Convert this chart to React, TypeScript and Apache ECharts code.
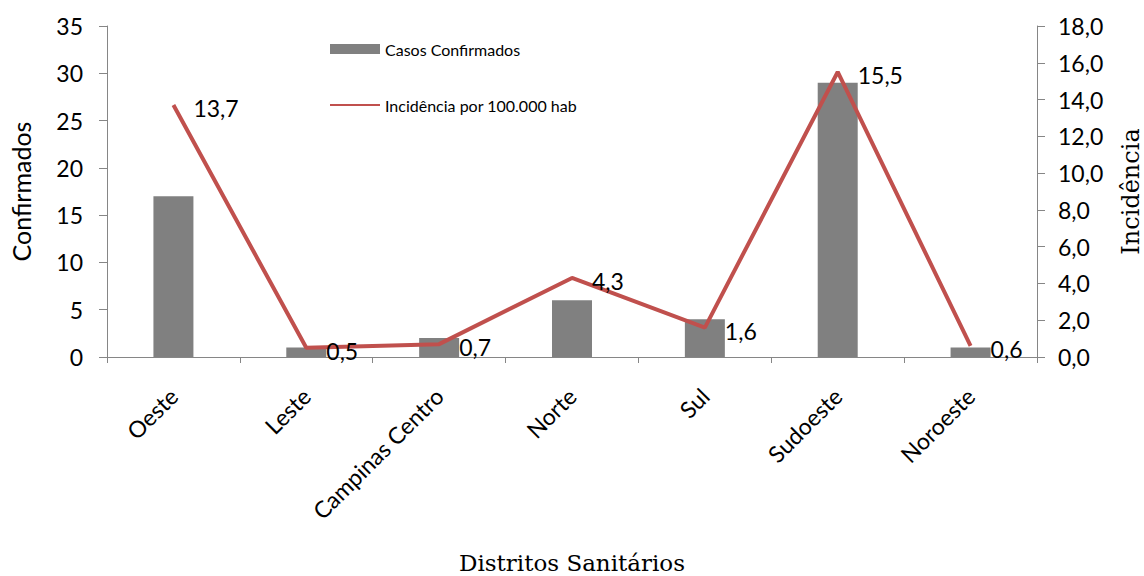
import React, { useEffect, useRef } from "react";
import * as echarts from "echarts";

const categories = ["Oeste", "Leste", "Campinas Centro", "Norte", "Sul", "Sudoeste", "Noroeste"];
const confirmados = [17, 1, 2, 6, 4, 29, 1];
const incidencia = [13.7, 0.5, 0.7, 4.3, 1.6, 15.5, 0.6];
const barName = "Casos Confirmados";
const lineName = "Incidência por 100.000 hab";

const sans = "Lato";
const serif = "DejaVu Serif";

export default function App() {
  const ref = useRef<HTMLDivElement>(null);
  useEffect(() => {
    document.body.style.margin = "0";
    const chart = echarts.init(ref.current!, undefined, { renderer: "svg" });
    const axisLine = { show: true, lineStyle: { color: "#868686", width: 1 } };
    chart.setOption({
      animation: false,
      backgroundColor: "#ffffff",
      textStyle: { fontFamily: sans },
      grid: { left: 107, right: 107, top: 26, bottom: 219, containLabel: false, outerBoundsMode: "none" },
      legend: {
        orient: "vertical",
        left: 325,
        top: 36,
        itemGap: 40,
        itemWidth: 50,
        itemHeight: 10,
        textStyle: { fontFamily: sans, fontSize: 16, color: "#000" },
        data: [
          { name: barName, icon: "rect" },
          { name: lineName, icon: "path://M0,0 H50 V2 H0 Z", itemStyle: { color: "#C0504D" } },
        ],
      },
      xAxis: {
        type: "category",
        data: categories,
        axisLine,
        axisTick: { show: true, length: 6, lineStyle: { color: "#868686" } },
        axisLabel: { rotate: 45, fontSize: 23, color: "#000", margin: 35, fontFamily: sans, interval: 0 },
        name: "Distritos Sanitários",
        nameLocation: "middle",
        nameGap: 194,
        nameTextStyle: { fontFamily: serif, fontSize: 23, color: "#000" },
      },
      yAxis: [
        {
          type: "value",
          min: 0,
          max: 35,
          interval: 5,
          axisLine,
          axisTick: { show: true, length: 8, lineStyle: { color: "#868686" } },
          splitLine: { show: false },
          axisLabel: { fontSize: 23, color: "#000", margin: 24, fontFamily: sans },
          name: "Confirmados",
          nameLocation: "middle",
          nameGap: 74,
          nameTextStyle: { fontFamily: sans, fontSize: 25, color: "#000" },
        },
        {
          type: "value",
          min: 0,
          max: 18,
          interval: 2,
          position: "right",
          axisLine,
          axisTick: { show: true, length: 8, lineStyle: { color: "#868686" } },
          splitLine: { show: false },
          axisLabel: {
            fontSize: 23,
            color: "#000",
            margin: 21,
            fontFamily: sans,
            formatter: (v: number) => v.toFixed(1).replace(".", ","),
          },
          name: "Incidência",
          nameLocation: "middle",
          nameGap: 82,
          nameRotate: 90,
          nameTextStyle: { fontFamily: serif, fontSize: 24, color: "#000" },
        },
      ],
      series: [
        {
          name: barName,
          type: "bar",
          data: confirmados,
          barWidth: 40,
          itemStyle: { color: "#808080" },
          yAxisIndex: 0,
        },
        {
          name: lineName,
          type: "line",
          data: incidencia,
          yAxisIndex: 1,
          symbol: "circle",
          symbolSize: 0.01,
          showSymbol: true,
          lineStyle: { color: "#C0504D", width: 4 },
          itemStyle: { color: "#C0504D" },
          label: {
            show: true,
            position: "right",
            distance: 20,
            offset: [0, 3],
            fontSize: 23,
            color: "#000",
            fontFamily: sans,
            formatter: (p: any) => Number(p.value).toFixed(1).replace(".", ","),
          },
        },
      ],
    });
    return () => chart.dispose();
  }, []);
  return <div ref={ref} style={{ width: 1144, height: 576 }} />;
}
